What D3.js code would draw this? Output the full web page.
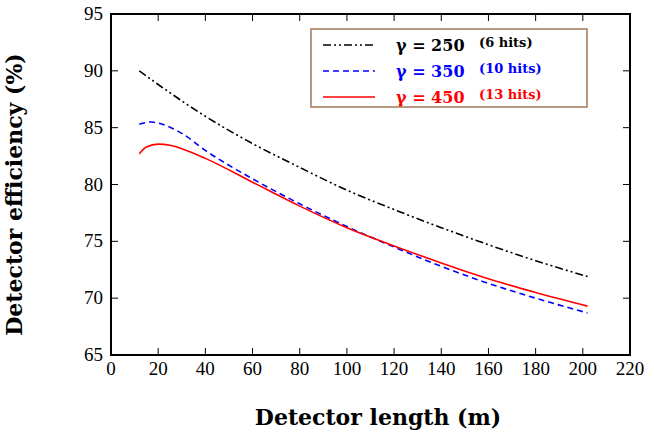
<!DOCTYPE html><html><head><meta charset="utf-8"><script src="https://cdn.jsdelivr.net/npm/d3@7"></script>
<style>body{margin:0;background:#fff}text{font-family:"Liberation Serif","DejaVu Serif",serif}.b{font-family:"DejaVu Serif",serif;font-weight:bold}</style></head><body>
<svg id="c" width="654" height="436"></svg>
<script>
const xTicks=[0,20,40,60,80,100,120,140,160,180,200,220];
const yTicks=[65,70,75,80,85,90,95];
const xs250=[12,20,40,60,80,100,120,140,160,180,202];
const ys250=[90,88.8,86,83.6,81.5,79.5,77.8,76.2,74.7,73.3,71.9];
const xs350=[12,17,20,30,40,60,80,100,120,140,160,180,202];
const ys350=[85.3,85.5,85.4,84.5,83,80.5,78.3,76.3,74.5,72.8,71.3,70,68.7];
const xs450=[12,15,20,25,30,40,60,80,100,120,140,160,180,202];
const ys450=[82.7,83.3,83.55,83.45,83.15,82.3,80.2,78.1,76.2,74.6,73.1,71.7,70.5,69.3];
const names=["γ = 250","γ = 350","γ = 450"];
const hits=["(6 hits)","(10 hits)","(13 hits)"];
const svg=d3.select("#c");
const L=111,R=630,T=14,B=355;
const x=d3.scaleLinear().domain([0,220]).range([L,R]);
const y=d3.scaleLinear().domain([65,95]).range([B,T]);
const g=svg.append("g");
g.append("rect").attr("x",L).attr("y",T).attr("width",R-L).attr("height",B-T).attr("fill","none").attr("stroke","#000").attr("stroke-width",2);
xTicks.forEach(t=>{[[B,-1],[T,1]].forEach(([p,d])=>g.append("line").attr("x1",x(t)).attr("x2",x(t)).attr("y1",p).attr("y2",p+d*7).attr("stroke","#000"));
 g.append("text").attr("x",x(t)).attr("y",B+20).attr("text-anchor","middle").attr("font-size",19).text(t);});
yTicks.forEach(t=>{[[L,1],[R,-1]].forEach(([p,d])=>g.append("line").attr("x1",p).attr("x2",p+d*7).attr("y1",y(t)).attr("y2",y(t)).attr("stroke","#000"));
 g.append("text").attr("x",L-8).attr("y",y(t)+6).attr("text-anchor","end").attr("font-size",19).text(t);});
const line=d3.line().curve(d3.curveMonotoneX);
const series=[[xs250,ys250,"#000","8,3,2,3,2,3"],[xs350,ys350,"#0000ff","6,4"],[xs450,ys450,"#ff0000",null]];
series.forEach(([xs,ys,c,da],i)=>{
 g.append("path").attr("d",line(xs.map((v,j)=>[x(v),y(ys[j])]))).attr("fill","none").attr("stroke",c).attr("stroke-width",1.6).attr("stroke-dasharray",da);
 const ly=45+i*26;
 g.append("line").attr("x1",323).attr("x2",375).attr("y1",ly).attr("y2",ly).attr("stroke",c).attr("stroke-width",1.6).attr("stroke-dasharray",da);
 g.append("text").attr("class","b").attr("x",396).attr("y",ly+6).attr("fill",c).attr("font-size",16).text(names[i]);
 g.append("text").attr("class","b").attr("x",479).attr("y",ly+2).attr("fill",c).attr("font-size",13).text(hits[i]);
});
g.append("rect").attr("x",311).attr("y",29).attr("width",276).attr("height",78).attr("fill","none").attr("stroke","#a0785a").attr("stroke-width",1.5);
g.append("text").attr("class","b").attr("x",378).attr("y",425).attr("text-anchor","middle").attr("font-size",22).text("Detector length (m)");
g.append("text").attr("class","b").attr("transform",`translate(22,${(T+B)/2+10}) rotate(-90)`).attr("text-anchor","middle").attr("font-size",22).text("Detector efficiency (%)");
</script></body></html>
